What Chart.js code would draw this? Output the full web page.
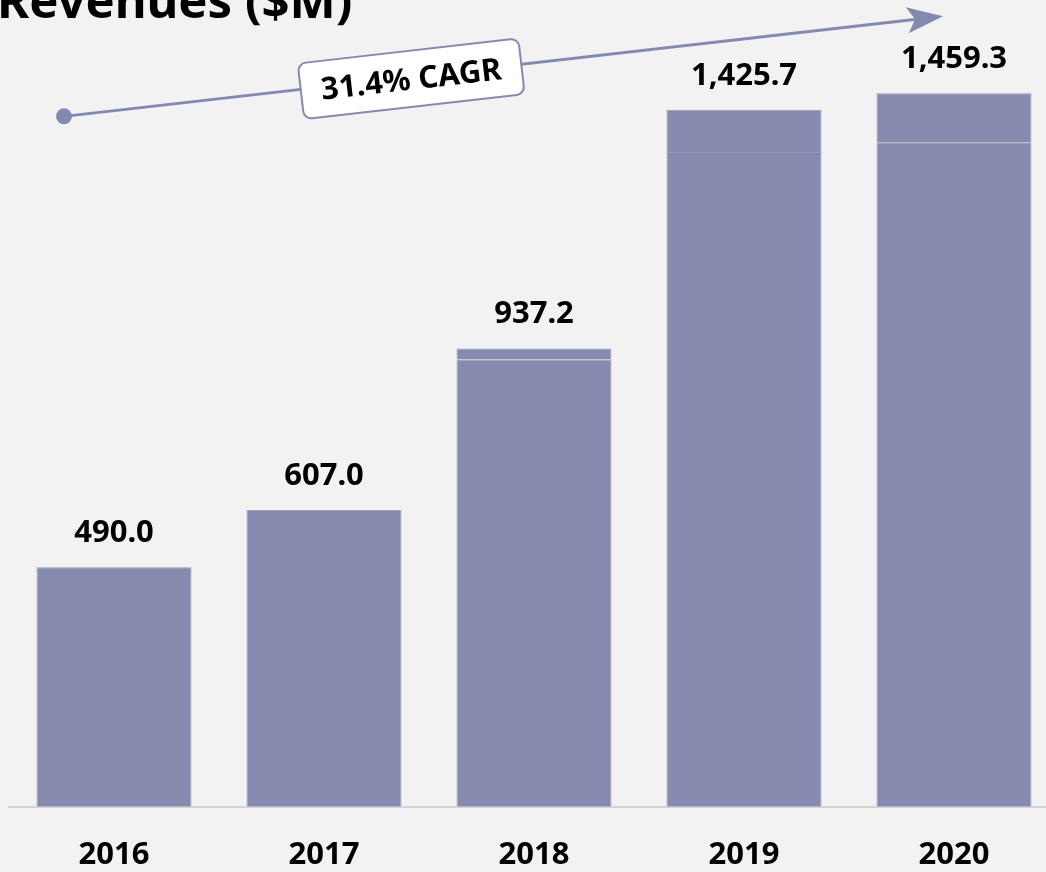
<!DOCTYPE html>
<html>
<head>
<meta charset="utf-8">
<script src="https://cdn.jsdelivr.net/npm/chart.js@4"></script>
<style>
  html, body { margin: 0; padding: 0; background: #f2f2f2; overflow: hidden; }
  #wrap { width: 1060px; height: 904px; }
</style>
</head>
<body>
<div id="wrap"><canvas id="revenues"></canvas></div>
<script>
"use strict";

/* data */
var years = ["2016", "2017", "2018", "2019", "2020"];
var baseRevenue = [490.0, 607.0, 915.0, 1339.0, 1359.0];
var addedRevenue = [0, 0, 22.2, 86.7, 100.3];
var totalLabels = ["490.0", "607.0", "937.2", "1,425.7", "1,459.3"];
var cagrText = "31.4% CAGR";

var barColor = "#858aae";
var edgeColor = "#9499b9";
var lineColor = "#8489b1";

/* labels, title and CAGR arrow */
var overlay = {
    id: "overlay",
    afterDatasetsDraw: function (chart) {
        var ctx = chart.ctx;
        var x = chart.scales.x;
        var y = chart.scales.y;
        var meta = chart.getDatasetMeta(1);

        ctx.save();
        ctx.fillStyle = "#000";
        ctx.textAlign = "center";
        ctx.textBaseline = "middle";
        ctx.font = "bold 31px 'Noto Sans'";
        meta.data.forEach(function (bar, i) {
            ctx.fillText(totalLabels[i], bar.x, bar.y - 34);
        });

        ctx.textAlign = "left";
        ctx.textBaseline = "alphabetic";
        ctx.font = "bold 49px 'Noto Sans'";
        ctx.fillText("Revenues ($M)", -3, 18);

        // arrow
        var x0 = x.getPixelForValue(0) - 50;
        var y0 = y.getPixelForValue(1412);
        var x1 = x.getPixelForValue(4) - 11;
        var y1 = y.getPixelForValue(1617);
        var ang = Math.atan2(y1 - y0, x1 - x0);

        ctx.strokeStyle = lineColor;
        ctx.fillStyle = lineColor;
        ctx.lineWidth = 3;
        ctx.beginPath();
        ctx.moveTo(x0, y0);
        ctx.lineTo(x1 - 20 * Math.cos(ang), y1 - 20 * Math.sin(ang));
        ctx.stroke();
        ctx.beginPath();
        ctx.arc(x0, y0, 8, 0, Math.PI * 2);
        ctx.fill();

        ctx.save();
        ctx.translate(x1, y1);
        ctx.rotate(ang);
        ctx.beginPath();
        ctx.moveTo(0, 0);
        ctx.lineTo(-36, -13);
        ctx.lineTo(-28, 0);
        ctx.lineTo(-36, 13);
        ctx.closePath();
        ctx.fill();
        ctx.restore();

        // CAGR box
        var t = 0.395;
        var bx = x0 + (x1 - x0) * t;
        var by = y0 + (y1 - y0) * t + 2;
        ctx.save();
        ctx.translate(bx, by);
        ctx.rotate(ang);
        ctx.beginPath();
        ctx.roundRect(-111, -28, 222, 56, 8);
        ctx.fillStyle = "#fff";
        ctx.fill();
        ctx.lineWidth = 2;
        ctx.strokeStyle = lineColor;
        ctx.stroke();
        ctx.fillStyle = "#000";
        ctx.textAlign = "center";
        ctx.textBaseline = "middle";
        ctx.font = "bold 31px 'Noto Sans'";
        ctx.fillText(cagrText, 0, 2);
        ctx.restore();

        ctx.restore();
    }
};

var myCanvas = document.getElementById("revenues");
var myChart = new Chart(myCanvas, {
    type: "bar",
    data: {
        labels: years,
        datasets: [
            {
                data: baseRevenue,
                backgroundColor: barColor,
                borderColor: edgeColor,
                borderWidth: 1,
            },
            {
                data: addedRevenue,
                backgroundColor: barColor,
                borderColor: edgeColor,
                borderWidth: 1,
            },
        ],
    },
    options: {
        responsive: true,
        maintainAspectRatio: false,
        animation: false,
        layout: {
            padding: { left: 9, right: 1, top: 0, bottom: 0 },
        },
        categoryPercentage: 1,
        barPercentage: 0.738,
        scales: {
            x: {
                stacked: true,
                grid: { display: false, drawTicks: false },
                border: { display: true, color: "#d4d4d4", width: 2 },
                ticks: {
                    color: "#000",
                    padding: 30,
                    font: { family: "Noto Sans", size: 31, weight: "bold" },
                },
            },
            y: {
                stacked: true,
                display: false,
                min: 0,
                max: 1650,
            },
        },
        plugins: {
            legend: { display: false },
            tooltip: { enabled: false },
        },
    },
    plugins: [overlay],
});
</script>
</body>
</html>
